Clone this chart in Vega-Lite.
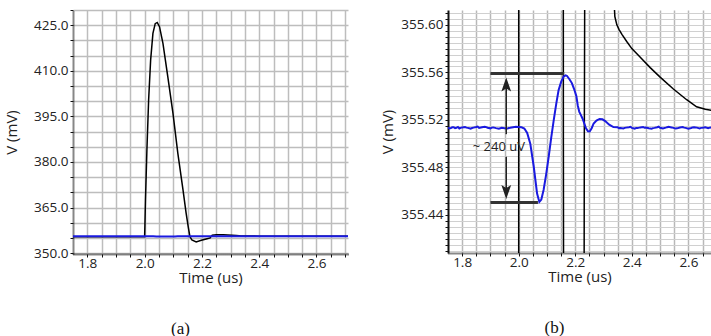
{
  "$schema": "https://vega.github.io/schema/vega-lite/v6.json",
  "padding": {"left": 4, "top": 3, "right": 0, "bottom": 0},
  "background": "white",
  "config": {
    "view": {"stroke": null},
    "font": "Open Sans",
    "axis": {"labelFont": "Open Sans", "titleFont": "Open Sans", "labelFontSize": 13.5, "titleFontSize": 15, "titleFontWeight": "normal", "labelColor": "#222", "titleColor": "#222", "domainColor": "#111", "tickColor": "#111", "gridColor": "#bdbdbd", "gridWidth": 1.5, "labelOverlap": false, "labelFlush": false},
    "title": {"font": "Liberation Serif", "fontSize": 17, "fontWeight": "normal", "color": "#111"}
  },
  "datasets": {
    "sig": [
      {"s": "black", "t": 1.75, "v": 355.38},
      {"s": "black", "t": 2.0, "v": 355.38},
      {"s": "black", "t": 2.001, "v": 359.0},
      {"s": "black", "t": 2.003, "v": 367.5},
      {"s": "black", "t": 2.008, "v": 383.9},
      {"s": "black", "t": 2.014, "v": 400.4},
      {"s": "black", "t": 2.021, "v": 413.5},
      {"s": "black", "t": 2.029, "v": 422.3},
      {"s": "black", "t": 2.037, "v": 425.5},
      {"s": "black", "t": 2.044, "v": 425.9},
      {"s": "black", "t": 2.052, "v": 424.5},
      {"s": "black", "t": 2.064, "v": 419.0},
      {"s": "black", "t": 2.081, "v": 408.0},
      {"s": "black", "t": 2.099, "v": 396.0},
      {"s": "black", "t": 2.116, "v": 382.8},
      {"s": "black", "t": 2.134, "v": 370.8},
      {"s": "black", "t": 2.145, "v": 363.1},
      {"s": "black", "t": 2.152, "v": 358.8},
      {"s": "black", "t": 2.158, "v": 355.5},
      {"s": "black", "t": 2.165, "v": 354.3},
      {"s": "black", "t": 2.18, "v": 353.7},
      {"s": "black", "t": 2.198, "v": 354.2},
      {"s": "black", "t": 2.215, "v": 354.65},
      {"s": "black", "t": 2.229, "v": 355.0},
      {"s": "black", "t": 2.232, "v": 355.5},
      {"s": "black", "t": 2.236, "v": 355.85},
      {"s": "black", "t": 2.25, "v": 356.0},
      {"s": "black", "t": 2.275, "v": 356.05},
      {"s": "black", "t": 2.29, "v": 355.98},
      {"s": "black", "t": 2.305, "v": 355.88},
      {"s": "black", "t": 2.32, "v": 355.75},
      {"s": "black", "t": 2.33, "v": 355.67},
      {"s": "black", "t": 2.336, "v": 355.625},
      {"s": "black", "t": 2.34, "v": 355.607},
      {"s": "black", "t": 2.347, "v": 355.6},
      {"s": "black", "t": 2.355, "v": 355.596},
      {"s": "black", "t": 2.365, "v": 355.592},
      {"s": "black", "t": 2.382, "v": 355.586},
      {"s": "black", "t": 2.4, "v": 355.58},
      {"s": "black", "t": 2.429, "v": 355.573},
      {"s": "black", "t": 2.465, "v": 355.564},
      {"s": "black", "t": 2.5, "v": 355.556},
      {"s": "black", "t": 2.547, "v": 355.546},
      {"s": "black", "t": 2.594, "v": 355.537},
      {"s": "black", "t": 2.629, "v": 355.531},
      {"s": "black", "t": 2.66, "v": 355.529},
      {"s": "black", "t": 2.71, "v": 355.527},
      {"s": "blue", "t": 1.75, "v": 355.5136},
      {"s": "blue", "t": 1.755, "v": 355.5129},
      {"s": "blue", "t": 1.76, "v": 355.5131},
      {"s": "blue", "t": 1.765, "v": 355.5138},
      {"s": "blue", "t": 1.77, "v": 355.5139},
      {"s": "blue", "t": 1.775, "v": 355.5131},
      {"s": "blue", "t": 1.78, "v": 355.5134},
      {"s": "blue", "t": 1.785, "v": 355.5141},
      {"s": "blue", "t": 1.79, "v": 355.5128},
      {"s": "blue", "t": 1.795, "v": 355.5133},
      {"s": "blue", "t": 1.8, "v": 355.5137},
      {"s": "blue", "t": 1.81, "v": 355.5141},
      {"s": "blue", "t": 1.815, "v": 355.5135},
      {"s": "blue", "t": 1.82, "v": 355.5133},
      {"s": "blue", "t": 1.83, "v": 355.5127},
      {"s": "blue", "t": 1.835, "v": 355.5132},
      {"s": "blue", "t": 1.84, "v": 355.5135},
      {"s": "blue", "t": 1.85, "v": 355.514},
      {"s": "blue", "t": 1.855, "v": 355.5144},
      {"s": "blue", "t": 1.86, "v": 355.5132},
      {"s": "blue", "t": 1.87, "v": 355.5138},
      {"s": "blue", "t": 1.88, "v": 355.5143},
      {"s": "blue", "t": 1.885, "v": 355.5139},
      {"s": "blue", "t": 1.89, "v": 355.5134},
      {"s": "blue", "t": 1.9, "v": 355.5129},
      {"s": "blue", "t": 1.905, "v": 355.5135},
      {"s": "blue", "t": 1.91, "v": 355.5137},
      {"s": "blue", "t": 1.92, "v": 355.5131},
      {"s": "blue", "t": 1.93, "v": 355.5126},
      {"s": "blue", "t": 1.935, "v": 355.513},
      {"s": "blue", "t": 1.94, "v": 355.5133},
      {"s": "blue", "t": 1.95, "v": 355.513},
      {"s": "blue", "t": 1.96, "v": 355.5127},
      {"s": "blue", "t": 1.965, "v": 355.5132},
      {"s": "blue", "t": 1.97, "v": 355.5134},
      {"s": "blue", "t": 1.98, "v": 355.5139},
      {"s": "blue", "t": 1.99, "v": 355.5142},
      {"s": "blue", "t": 2.0, "v": 355.514},
      {"s": "blue", "t": 2.01, "v": 355.5138},
      {"s": "blue", "t": 2.02, "v": 355.5128},
      {"s": "blue", "t": 2.03, "v": 355.509},
      {"s": "blue", "t": 2.041, "v": 355.5},
      {"s": "blue", "t": 2.053, "v": 355.481},
      {"s": "blue", "t": 2.065, "v": 355.458},
      {"s": "blue", "t": 2.073, "v": 355.451},
      {"s": "blue", "t": 2.08, "v": 355.453},
      {"s": "blue", "t": 2.088, "v": 355.461},
      {"s": "blue", "t": 2.097, "v": 355.474},
      {"s": "blue", "t": 2.106, "v": 355.489},
      {"s": "blue", "t": 2.115, "v": 355.505},
      {"s": "blue", "t": 2.124, "v": 355.52},
      {"s": "blue", "t": 2.133, "v": 355.534},
      {"s": "blue", "t": 2.141, "v": 355.545},
      {"s": "blue", "t": 2.15, "v": 355.552},
      {"s": "blue", "t": 2.159, "v": 355.5565},
      {"s": "blue", "t": 2.166, "v": 355.5575},
      {"s": "blue", "t": 2.171, "v": 355.557},
      {"s": "blue", "t": 2.18, "v": 355.554},
      {"s": "blue", "t": 2.188, "v": 355.551},
      {"s": "blue", "t": 2.196, "v": 355.546},
      {"s": "blue", "t": 2.204, "v": 355.54},
      {"s": "blue", "t": 2.209, "v": 355.532},
      {"s": "blue", "t": 2.214, "v": 355.527},
      {"s": "blue", "t": 2.22, "v": 355.524},
      {"s": "blue", "t": 2.226, "v": 355.521},
      {"s": "blue", "t": 2.232, "v": 355.517},
      {"s": "blue", "t": 2.238, "v": 355.513},
      {"s": "blue", "t": 2.245, "v": 355.5105},
      {"s": "blue", "t": 2.251, "v": 355.5103},
      {"s": "blue", "t": 2.258, "v": 355.513},
      {"s": "blue", "t": 2.265, "v": 355.517},
      {"s": "blue", "t": 2.275, "v": 355.5195},
      {"s": "blue", "t": 2.286, "v": 355.5208},
      {"s": "blue", "t": 2.296, "v": 355.5205},
      {"s": "blue", "t": 2.306, "v": 355.519},
      {"s": "blue", "t": 2.32, "v": 355.516},
      {"s": "blue", "t": 2.335, "v": 355.514},
      {"s": "blue", "t": 2.35, "v": 355.5138},
      {"s": "blue", "t": 2.355, "v": 355.5131},
      {"s": "blue", "t": 2.36, "v": 355.5132},
      {"s": "blue", "t": 2.37, "v": 355.5128},
      {"s": "blue", "t": 2.375, "v": 355.5133},
      {"s": "blue", "t": 2.38, "v": 355.5135},
      {"s": "blue", "t": 2.39, "v": 355.5139},
      {"s": "blue", "t": 2.395, "v": 355.5142},
      {"s": "blue", "t": 2.4, "v": 355.5133},
      {"s": "blue", "t": 2.41, "v": 355.5127},
      {"s": "blue", "t": 2.415, "v": 355.5132},
      {"s": "blue", "t": 2.42, "v": 355.5131},
      {"s": "blue", "t": 2.43, "v": 355.5137},
      {"s": "blue", "t": 2.44, "v": 355.5141},
      {"s": "blue", "t": 2.445, "v": 355.5134},
      {"s": "blue", "t": 2.45, "v": 355.5136},
      {"s": "blue", "t": 2.46, "v": 355.513},
      {"s": "blue", "t": 2.47, "v": 355.5126},
      {"s": "blue", "t": 2.475, "v": 355.5131},
      {"s": "blue", "t": 2.48, "v": 355.5133},
      {"s": "blue", "t": 2.49, "v": 355.5138},
      {"s": "blue", "t": 2.495, "v": 355.5143},
      {"s": "blue", "t": 2.5, "v": 355.5134},
      {"s": "blue", "t": 2.51, "v": 355.5128},
      {"s": "blue", "t": 2.52, "v": 355.5135},
      {"s": "blue", "t": 2.525, "v": 355.5139},
      {"s": "blue", "t": 2.53, "v": 355.5142},
      {"s": "blue", "t": 2.54, "v": 355.5137},
      {"s": "blue", "t": 2.55, "v": 355.5131},
      {"s": "blue", "t": 2.555, "v": 355.5127},
      {"s": "blue", "t": 2.56, "v": 355.5129},
      {"s": "blue", "t": 2.57, "v": 355.5136},
      {"s": "blue", "t": 2.58, "v": 355.514},
      {"s": "blue", "t": 2.585, "v": 355.5135},
      {"s": "blue", "t": 2.59, "v": 355.5133},
      {"s": "blue", "t": 2.6, "v": 355.5126},
      {"s": "blue", "t": 2.61, "v": 355.5132},
      {"s": "blue", "t": 2.615, "v": 355.5137},
      {"s": "blue", "t": 2.62, "v": 355.5139},
      {"s": "blue", "t": 2.63, "v": 355.5135},
      {"s": "blue", "t": 2.64, "v": 355.5129},
      {"s": "blue", "t": 2.645, "v": 355.5133},
      {"s": "blue", "t": 2.65, "v": 355.5134},
      {"s": "blue", "t": 2.66, "v": 355.5138},
      {"s": "blue", "t": 2.67, "v": 355.5131},
      {"s": "blue", "t": 2.675, "v": 355.5135},
      {"s": "blue", "t": 2.68, "v": 355.5136},
      {"s": "blue", "t": 2.69, "v": 355.5133},
      {"s": "blue", "t": 2.7, "v": 355.5137},
      {"s": "blue", "t": 2.71, "v": 355.5134}
    ]
  },
  "spacing": 32,
  "resolve": {"scale": {"x": "independent", "y": "independent"}},
  "hconcat": [
    {
      "width": 275,
      "height": 244,
      "title": {"text": "(a)", "orient": "bottom", "anchor": "middle", "offset": 35, "dx": -30},
      "data": {"name": "sig"},
      "encoding": {
        "x": {
          "field": "t", "type": "quantitative",
          "scale": {"domain": [1.75, 2.71], "nice": false, "zero": false},
          "axis": {
            "title": "Time (us)", "titlePadding": 1,
            "values": [1.8, 1.85, 1.9, 1.95, 2.0, 2.05, 2.1, 2.15, 2.2, 2.25, 2.3, 2.35, 2.4, 2.45, 2.5, 2.55, 2.6, 2.65, 2.7],
            "labelExpr": "round(datum.value*100) % 20 == 0 ? format(datum.value, '.1f') : ''",
            "tickSize": 3, "labelPadding": -1, "domainWidth": 2, "domainDash": [1, 1]
          }
        },
        "y": {
          "field": "v", "type": "quantitative",
          "scale": {"domain": [349.7, 430], "nice": false, "zero": false},
          "axis": {
            "title": "V (mV)", "titlePadding": 14,
            "values": [350, 355, 360, 365, 370, 375, 380, 385, 390, 395, 400, 405, 410, 415, 420, 425, 430],
            "labelExpr": "(round(datum.value) - 350) % 15 == 0 ? format(datum.value, '.1f') : ''",
            "tickSize": 3, "labelPadding": 2, "domainWidth": 2, "domainDash": [1, 1]
          }
        }
      },
      "layer": [
        {"transform": [{"filter": "datum.s == 'black'"}], "mark": {"type": "line", "color": "#000", "strokeWidth": 1.5, "clip": true}},
        {"transform": [{"filter": "datum.s == 'blue'"}], "mark": {"type": "line", "color": "#1a1ae0", "strokeWidth": 2, "clip": true}}
      ]
    },
    {
      "width": 263,
      "height": 243,
      "title": {"text": "(b)", "orient": "bottom", "anchor": "middle", "offset": 35, "dx": -25},
      "data": {"name": "sig"},
      "encoding": {
        "x": {
          "field": "t", "type": "quantitative",
          "scale": {"domain": [1.75, 2.68], "nice": false, "zero": false},
          "axis": {
            "title": "Time (us)", "titlePadding": 1,
            "values": [1.8, 1.85, 1.9, 1.95, 2.0, 2.05, 2.1, 2.15, 2.2, 2.25, 2.3, 2.35, 2.4, 2.45, 2.5, 2.55, 2.6, 2.65],
            "labelExpr": "round(datum.value*100) % 20 == 0 ? format(datum.value, '.1f') : ''",
            "tickSize": 3, "labelPadding": -1, "domainWidth": 2, "domainDash": [1, 1],
            "gridColor": "#b8b8b8"
          }
        },
        "y": {
          "field": "v", "type": "quantitative",
          "scale": {"domain": [355.408, 355.6125], "nice": false, "zero": false},
          "axis": {
            "title": "V (mV)", "titlePadding": 5,
            "values": [355.41, 355.415, 355.42, 355.425, 355.43, 355.435, 355.44, 355.445, 355.45, 355.455, 355.46, 355.465, 355.47, 355.475, 355.48, 355.485, 355.49, 355.495, 355.5, 355.505, 355.51, 355.515, 355.52, 355.525, 355.53, 355.535, 355.54, 355.545, 355.55, 355.555, 355.56, 355.565, 355.57, 355.575, 355.58, 355.585, 355.59, 355.595, 355.6, 355.605, 355.61],
            "labelExpr": "round(datum.value*1000) % 40 == 0 ? format(datum.value, '.2f') : ''",
            "tickSize": 3, "labelPadding": 2, "domainWidth": 2,
            "gridColor": "#d0d0d0", "gridWidth": 1
          }
        }
      },
      "layer": [
        {"transform": [{"filter": "datum.s == 'black'"}], "mark": {"type": "line", "color": "#000", "strokeWidth": 1.5, "clip": true}},
        {"transform": [{"filter": "datum.s == 'blue'"}], "mark": {"type": "line", "color": "#1a1ae0", "strokeWidth": 2, "clip": true}},
        {
          "data": {"values": [{"t": 1.9, "t2": 2.161, "v": 355.559}, {"t": 1.9, "t2": 2.068, "v": 355.4505}]},
          "mark": {"type": "rule", "color": "#333", "strokeWidth": 3},
          "encoding": {"x2": {"field": "t2"}}
        },
        {
          "data": {"values": [{"t": 1.956, "v": 355.553, "v2": 355.508}, {"t": 1.956, "v": 355.489, "v2": 355.457}]},
          "mark": {"type": "rule", "color": "#222", "strokeWidth": 1.5},
          "encoding": {"y2": {"field": "v2"}}
        },
        {
          "data": {"values": [{"t": 1.956, "v": 355.5556}]},
          "mark": {"type": "point", "shape": "M0,0L0.7,2L0,1.55L-0.7,2Z", "filled": true, "size": 196, "color": "#222", "opacity": 1}
        },
        {
          "data": {"values": [{"t": 1.956, "v": 355.4535}]},
          "mark": {"type": "point", "shape": "M0,0L0.7,-2L0,-1.55L-0.7,-2Z", "filled": true, "size": 196, "color": "#222", "opacity": 1}
        },
        {
          "data": {"values": [{"t": 1.93, "v": 355.4975, "label": "~ 240 uV"}]},
          "mark": {"type": "text", "font": "Open Sans", "fontSize": 13, "color": "#222", "align": "center", "baseline": "middle"},
          "encoding": {"text": {"field": "label"}}
        }
      ]
    }
  ]
}
